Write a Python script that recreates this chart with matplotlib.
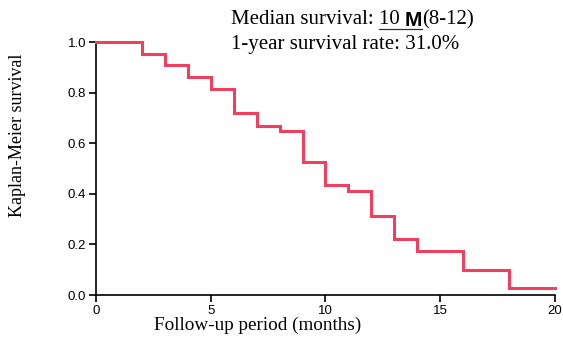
import matplotlib
matplotlib.use("Agg")
import matplotlib.pyplot as plt

# Kaplan-Meier step data
months = [0, 2, 3, 4, 5, 6, 7, 8, 9, 10, 11, 12, 13, 14, 16, 18, 20]
survival = [1.0, 0.952, 0.909, 0.860, 0.814, 0.721, 0.670, 0.650, 0.526,
            0.433, 0.410, 0.314, 0.220, 0.173, 0.099, 0.027, 0.027]
x_ticks = [0, 5, 10, 15, 20]
y_ticks = [0.0, 0.2, 0.4, 0.6, 0.8, 1.0]

serif = "Liberation Serif"
sans = "Liberation Sans"

fig = plt.figure(figsize=(5.63, 3.38), dpi=100)
ax = fig.add_axes([0.1705, 0.1272, 0.8153, 0.7485])

ax.step(months, survival, where="post", color="#f0405f", linewidth=2.2,
        solid_joinstyle="miter", clip_on=False, zorder=3)

ax.set_xlim(0, 20)
ax.set_ylim(0, 1.0)
ax.set_xticks(x_ticks)
ax.set_yticks(y_ticks)
ax.set_xticklabels([str(t) for t in x_ticks], fontfamily=sans, fontsize=9.5)
ax.set_yticklabels(["%.1f" % t for t in y_ticks], fontfamily=sans, fontsize=9.5)
ax.tick_params(direction="out", length=5, width=1.2, pad=2)
for s in ["top", "right"]:
    ax.spines[s].set_visible(False)
for s in ["left", "bottom"]:
    ax.spines[s].set_linewidth(1.2)

fig.text(18 / 563, 1 - 135 / 338, "Kaplan-Meier survival", rotation=90,
         ha="center", va="center", fontfamily=serif, fontsize=13)
fig.text(258 / 563, 1 - 325 / 338, "Follow-up period (months)",
         ha="center", va="center", fontfamily=serif, fontsize=13.8)

# annotation text, built piece by piece
fig.canvas.draw()
renderer = fig.canvas.get_renderer()
x0 = 231 / 563
y1 = 1 - 20 / 338
pieces = [("Median survival: ", serif, "normal"),
          ("10 ", serif, "normal"),
          ("M", sans, "bold"),
          ("(8-12)", serif, "normal")]
x = x0
starts = []
for txt, fam, wt in pieces:
    t = fig.text(x, y1, txt, ha="left", va="center", fontfamily=fam,
                 fontweight=wt, fontsize=15)
    bb = t.get_window_extent(renderer)
    starts.append((x, bb.x1 / fig.bbox.width))
    x = bb.x1 / fig.bbox.width
u0 = starts[1][0]
u1 = starts[2][1]
fig.add_artist(plt.Line2D([u0, u1], [1 - 29 / 338, 1 - 29 / 338],
                          color="#333333", linewidth=0.9,
                          transform=fig.transFigure))
fig.text(x0, 1 - 44 / 338, "1-year survival rate: 31.0%", ha="left",
         va="center", fontfamily=serif, fontsize=15)

fig.savefig("out.png", dpi=100)
